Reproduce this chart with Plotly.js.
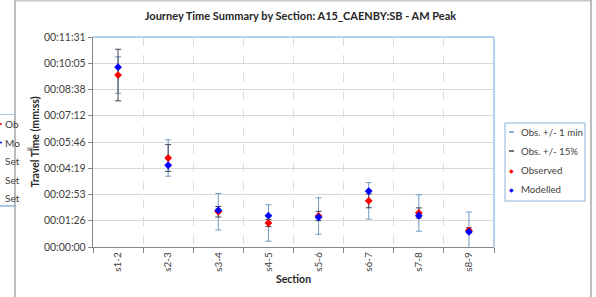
<!DOCTYPE html>
<html><head><meta charset="utf-8">
<script src="https://cdn.plot.ly/plotly-3.0.1.min.js"></script>
<style>html,body{margin:0;padding:0;background:#fff;}#chart{width:596px;height:297px;}</style>
</head><body><div id="chart"></div>
<script>
// ---- data (travel times in seconds) ----
const sections = ['s1-2','s2-3','s3-4','s4-5','s5-6','s6-7','s7-8','s8-9'];
const observedSec = [566, 293, 116, 79, 102, 152, 112, 55];
const modelledSec = [592, 269, 121, 103, 98, 184, 103, 50];
const tolMinuteSec = 60;      // Obs. +/- 1 min
const tolPercent = 15;        // Obs. +/- 15%
const yTickVals = [0, 86.4, 172.8, 259.2, 345.6, 432, 518.4, 604.8, 691.2];
const yTickText = ['00:00:00','00:01:26','00:02:53','00:04:19','00:05:46','00:07:12','00:08:38','00:10:05','00:11:31'];
const legendNames = ['Obs. +/- 1 min','Obs. +/- 15%','Observed','Modelled'];
const sideLegendText = ['Ob','Mo','Set','Set','Set'];

// ---- layout geometry ----
const W = 596, H = 297, L = 93, R = 494, T = 37, B = 247;
const xp = px => (px - L) / (R - L);
const yp = py => (B - py) / (B - T);
const FONT = 'Lato, "Noto Sans", sans-serif';
const lightBlue = '#6f9ac3', darkBar = '#3f4654', border = '#9dc3e6';

const traces = [
  {name: legendNames[0], x: sections, y: observedSec, type: 'scatter', mode: 'markers',
   marker: {size: 1, opacity: 0}, showlegend: false, hoverinfo: 'skip',
   error_y: {type: 'constant', value: tolMinuteSec, color: lightBlue, thickness: 1, width: 3}},
  {name: legendNames[1], x: sections, y: observedSec, type: 'scatter', mode: 'markers',
   marker: {size: 1, opacity: 0}, showlegend: false, hoverinfo: 'skip',
   error_y: {type: 'percent', value: tolPercent, color: darkBar, thickness: 1, width: 3}},
  {name: legendNames[2], x: sections, y: observedSec, type: 'scatter', mode: 'markers',
   marker: {symbol: 'diamond', size: 6, color: '#ff0000'}, showlegend: false},
  {name: legendNames[3], x: sections, y: modelledSec, type: 'scatter', mode: 'markers',
   marker: {symbol: 'diamond', size: 6, color: '#0000ff'}, showlegend: false}
];

const shapes = [
  // chart area border
  {type:'line', xref:'paper', yref:'paper', x0:xp(15), x1:xp(15), y0:yp(0), y1:yp(297), line:{color:'#a6a6a6', width:1.5}},
  {type:'line', xref:'paper', yref:'paper', x0:xp(15), x1:xp(591), y0:yp(0.7), y1:yp(0.7), line:{color:'#c8c8c8', width:1.5}},
  {type:'line', xref:'paper', yref:'paper', x0:xp(591), x1:xp(591), y0:yp(0), y1:yp(297), line:{color:'#a6a6a6', width:1.5}},
  // plot area top/right border
  {type:'line', xref:'paper', yref:'paper', x0:0, x1:1, y0:1, y1:1, line:{color:border, width:1.5}},
  {type:'line', xref:'paper', yref:'paper', x0:1, x1:1, y0:0, y1:1, line:{color:border, width:1.5}},
  // legend box
  {type:'rect', xref:'paper', yref:'paper', x0:xp(505), x1:xp(585), y0:yp(201), y1:yp(123), line:{color:'#8db3da', width:1}, fillcolor:'rgba(255,255,255,0)'},
  // legend dashes
  {type:'line', xref:'paper', yref:'paper', x0:xp(509), x1:xp(514), y0:yp(132), y1:yp(132), line:{color:lightBlue, width:1.5}},
  {type:'line', xref:'paper', yref:'paper', x0:xp(509), x1:xp(514), y0:yp(151), y1:yp(151), line:{color:darkBar, width:1.5}},
  // background chart's legend edge (left)
  {type:'line', xref:'paper', yref:'paper', x0:xp(0), x1:xp(15), y0:yp(114.5), y1:yp(114.5), line:{color:'#a9c6e4', width:1}},
  {type:'line', xref:'paper', yref:'paper', x0:xp(0), x1:xp(15), y0:yp(206), y1:yp(206), line:{color:'#8db3da', width:1.5}},
  {type:'circle', xref:'paper', yref:'paper', x0:xp(0), x1:xp(2), y0:yp(123), y1:yp(125), line:{width:0}, fillcolor:'#ff0000'},
  {type:'circle', xref:'paper', yref:'paper', x0:xp(0), x1:xp(2), y0:yp(141.5), y1:yp(143.5), line:{width:0}, fillcolor:'#0000ff'}
];

const annotations = [];
legendNames.forEach((n, i) => {
  const yy = 132 + i * 19;
  if (i >= 2) {
    annotations.push({xref:'paper', yref:'paper', x:xp(511.5), y:yp(yy), text:'◆', showarrow:false,
      font:{family:'DejaVu Sans', size:6, color: i === 2 ? '#ff0000' : '#0000ff'}, xanchor:'center', yanchor:'middle'});
  }
  annotations.push({xref:'paper', yref:'paper', x:xp(519), y:yp(yy), text:n, showarrow:false,
    font:{family:FONT, size:9.7, color:'#404040'}, xanchor:'left', yanchor:'middle'});
});
sideLegendText.forEach((s, i) => {
  annotations.push({xref:'paper', yref:'paper', x:xp(2.5), y:yp(124 + i * 18.5), text:s, showarrow:false,
    font:{family:FONT, size:10, color:'#404040'}, xanchor:'left', yanchor:'middle'});
});
annotations.push({xref:'paper', yref:'paper', x:xp(30), y:yp(149), text:'ll', showarrow:false,
  font:{family:FONT, size:8, color:'#404040'}, textangle:-90, xanchor:'center', yanchor:'middle'});

const layout = {
  width: W, height: H,
  margin: {l: L, r: W - R, t: T, b: H - B, pad: 0},
  paper_bgcolor: '#ffffff', plot_bgcolor: '#ffffff',
  showlegend: false,
  font: {family: FONT, size: 10, color: '#404040'},
  title: {text: '<b>Journey Time Summary by Section: A15_CAENBY:SB - AM Peak</b>',
          font: {family: FONT, size: 11, color: '#262626'},
          x: 300.5 / W, xref: 'container', xanchor: 'center', y: 1 - 16 / H, yref: 'container', yanchor: 'middle'},
  xaxis: {type: 'category', range: [-0.5, sections.length - 0.5], tickson: 'boundaries',
          ticks: 'outside', ticklen: 5, tickcolor: '#868686', tickwidth: 1,
          showline: true, linecolor: '#868686', linewidth: 1.2,
          showgrid: true, gridcolor: '#dcdcdc', griddash: 'dash', gridwidth: 1,
          zeroline: false, tickangle: -90, tickfont: {family: FONT, size: 10, color: '#404040'},
          title: {text: '<b>Section</b>', font: {family: FONT, size: 10.5, color: '#262626'}, standoff: 4},
          fixedrange: true},
  yaxis: {range: [0, 691.2], tickvals: yTickVals, ticktext: yTickText,
          ticks: 'outside', ticklen: 4, tickcolor: '#868686',
          showline: true, linecolor: '#868686', linewidth: 1.2,
          showgrid: true, gridcolor: '#d9d9d9', gridwidth: 1, zeroline: false,
          tickfont: {family: FONT, size: 10.5, color: '#404040'},
          title: {text: '<b>Travel Time (mm:ss)</b>', font: {family: FONT, size: 10.5, color: '#262626'}, standoff: 2},
          fixedrange: true},
  shapes: shapes,
  annotations: annotations
};

Plotly.newPlot('chart', traces, layout, {staticPlot: true, displayModeBar: false});
</script>
</body></html>
